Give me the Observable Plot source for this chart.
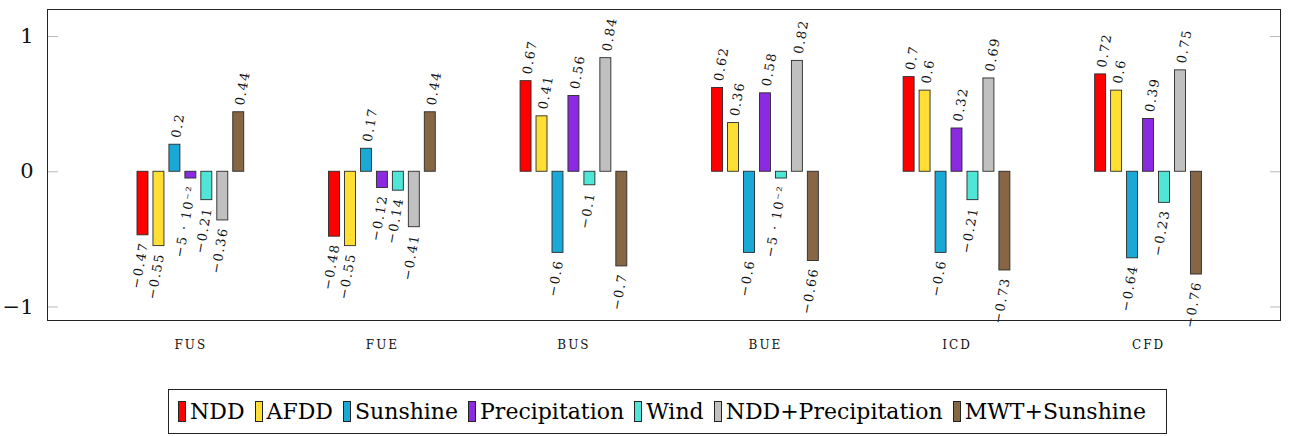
<!DOCTYPE html>
<html><head><meta charset="utf-8">
<script src="https://cdn.jsdelivr.net/npm/d3@7"></script>
<script src="https://cdn.jsdelivr.net/npm/@observablehq/plot@0.6"></script>
<style>
body{margin:0;background:#fff;font-family:"DejaVu Serif",serif;}
#chart svg{overflow:visible;}
#chart g[aria-label="x-axis tick label"] text{letter-spacing:2px;}
#chart g[aria-label="text"] text{letter-spacing:1.4px;}
#legend{position:absolute;left:168px;top:389px;width:999px;border:1px solid #222;height:45px;box-sizing:border-box;display:flex;align-items:center;padding:0 0 0 9px;font-size:22px;white-space:nowrap;}
#legend .item{display:flex;align-items:center;margin-right:10px;}
#legend .sw{width:6px;height:19px;border:1px solid #222;margin-right:4px;}
</style></head><body>
<div id="chart"></div><div id="legend"></div>
<script>
const groups = ["FUS","FUE","BUS","BUE","ICD","CFD"];
const series = ["NDD","AFDD","Sunshine","Precipitation","Wind","NDD+Precipitation","MWT+Sunshine"];
const colors = ["#ff0000","#ffdf33","#1aa9d6","#8a2be2","#4fe6d8","#c0c0c0","#876644"];
const ndd = [-0.47,-0.48,0.67,0.62,0.7,0.72];
const afdd = [-0.55,-0.55,0.41,0.36,0.6,0.6];
const sunshine = [0.2,0.17,-0.6,-0.6,-0.6,-0.64];
const precipitation = [-0.05,-0.12,0.56,0.58,0.32,0.39];
const wind = [-0.21,-0.14,-0.1,-0.05,-0.21,-0.23];
const nddPrecipitation = [-0.36,-0.41,0.84,0.82,0.69,0.75];
const mwtSunshine = [0.44,0.44,-0.7,-0.66,-0.73,-0.76];
const yTicks = [-1,0,1];

const seriesValues = [ndd,afdd,sunshine,precipitation,wind,nddPrecipitation,mwtSunshine];
const key = (g,s) => g + "|" + s;
const data = [];
groups.forEach((g,gi)=>series.forEach((s,si)=>data.push({group:g,series:s,key:key(g,s),value:seriesValues[si][gi]})));

// band domain: the bars of each group, with empty slots between groups
const gapSlots = 5;
const xDomain = groups.flatMap((g,gi)=>[
  ...series.map(s=>key(g,s)),
  ...(gi < groups.length-1 ? d3.range(gapSlots).map(j=>g+"|gap"+j) : [])
]);
const centerSeries = series[3];

const minus = s => String(s).replace("-","\u2212");
const fmt = v => Math.abs(v) < 0.1 && v !== 0
  ? minus((v*100).toFixed(0)) + " \u00b7 10\u207b\u00b2"
  : minus(v);

const chart = Plot.plot({
  width:1293, height:380,
  marginLeft:47, marginRight:13, marginTop:9, marginBottom:60,
  style:{fontFamily:"DejaVu Serif, serif", background:"white", color:"#111"},
  x:{domain:xDomain, range:[137,1201.4], paddingInner:0.3125, paddingOuter:0, axis:null},
  y:{domain:[-1.1,1.2], axis:null},
  color:{domain:series, range:colors},
  marks:[
    Plot.barY(data,{x:"key", y:"value", fill:"series", stroke:"#2a2a2a", strokeWidth:0.9}),
    Plot.text(data.filter(d=>d.value>=0),{x:"key", y:"value", text:d=>fmt(d.value), rotate:-80, textAnchor:"start", lineAnchor:"middle", dy:-7, dx:1, fontSize:13, fill:"#111"}),
    Plot.text(data.filter(d=>d.value<0),{x:"key", y:"value", text:d=>fmt(d.value), rotate:-80, textAnchor:"end", lineAnchor:"middle", dy:7, dx:1, fontSize:13, fill:"#111"}),
    Plot.axisX(groups.map(g=>key(g,centerSeries)),{tickSize:0, tickPadding:20, fontSize:12, tickFormat:k=>k.split("|")[0], label:null}),
    Plot.axisY(yTicks,{anchor:"left", tickSize:0, tickPadding:14, fontSize:21, tickFormat:d=>minus(d), label:null}),
    Plot.axisY(yTicks,{anchor:"left", tickSize:-11, text:null, stroke:"#bbb", label:null}),
    Plot.axisY(yTicks,{anchor:"right", tickSize:-11, text:null, stroke:"#bbb", label:null}),
    Plot.frame({stroke:"#222"})
  ]
});
document.getElementById("chart").append(chart);

const lg = d3.select("#legend");
series.forEach((s,i)=>{
  const it = lg.append("div").attr("class","item");
  it.append("div").attr("class","sw").style("background",colors[i]);
  it.append("span").text(s);
});
</script></body></html>
